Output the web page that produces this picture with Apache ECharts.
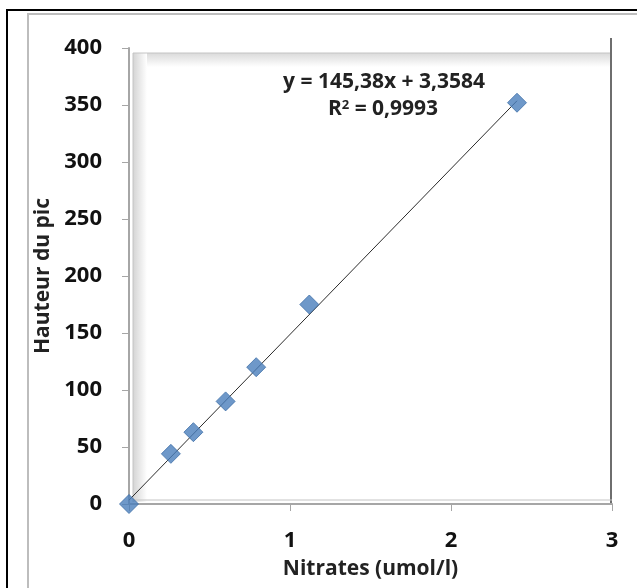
<!DOCTYPE html>
<html>
<head>
<meta charset="utf-8">
<script src="https://cdn.jsdelivr.net/npm/echarts@6/dist/echarts.min.js"></script>
<style>
  html, body { margin: 0; padding: 0; background: #fff; }
  #main { width: 637px; height: 588px; }
</style>
</head>
<body>
<div id="main"></div>
<script>
// values
const nitrates = [0, 0.26, 0.40, 0.60, 0.79, 1.12, 2.41];
const hauteur = [0, 44, 63, 90, 120, 175, 352];
const trendSlope = 145.38;
const trendIntercept = 3.3584;
const trendLabel = "y = 145,38x + 3,3584";
const r2Label = "0,9993";

let points = nitrates.map((x, i) => [x, hauteur[i]]);
let xEnd = nitrates[nitrates.length - 1];
let trend = [
  [0, trendIntercept],
  [xEnd, trendSlope * xEnd + trendIntercept],
];

const font = "'Open Sans', 'DejaVu Sans', sans-serif";

let myChart = echarts.init(document.getElementById("main"));

let options = {
  animation: false,
  backgroundColor: "#fff",
  grid: { left: 129, right: 25, top: 48, bottom: 84 },
  xAxis: {
    type: "value",
    min: 0,
    max: 3,
    interval: 1,
    name: "Nitrates (umol/l)",
    nameLocation: "middle",
    nameGap: 55,
    nameTextStyle: { fontFamily: font, fontSize: 21, fontWeight: "bold", color: "#222" },
    axisLine: { show: true, lineStyle: { color: "#a6a6a6", width: 2 } },
    axisTick: { show: true, length: 7, lineStyle: { color: "#a6a6a6" } },
    axisLabel: { margin: 26, fontFamily: font, fontSize: 22, fontWeight: "bold", color: "#111" },
    splitLine: { show: false },
  },
  yAxis: {
    type: "value",
    min: 0,
    max: 400,
    interval: 50,
    name: "Hauteur du pic",
    nameLocation: "middle",
    nameGap: 70,
    nameTextStyle: { fontFamily: font, fontSize: 21, fontWeight: "bold", color: "#222" },
    axisLine: { show: true, lineStyle: { color: "#a6a6a6", width: 2 } },
    axisTick: { show: true, length: 7, lineStyle: { color: "#a6a6a6" } },
    axisLabel: { margin: 27, fontFamily: font, fontSize: 22, fontWeight: "bold", color: "#111" },
    splitLine: { show: false },
  },
  graphic: [
    // outer black frame
    { type: "rect", z: -10, shape: { x: 7, y: 10, width: 700, height: 700 },
      style: { fill: "none", stroke: "#000", lineWidth: 2 } },
    // grey chart frame
    { type: "rect", z: -10, shape: { x: 28, y: 14, width: 700, height: 700 },
      style: { fill: "none", stroke: "#bdbdbd", lineWidth: 2 } },
    // plot wall shading (top and left)
    { type: "rect", z: -5, shape: { x: 133, y: 53, width: 479, height: 14 },
      style: { fill: new echarts.graphic.LinearGradient(0, 0, 0, 1, [
        { offset: 0, color: "#dadada" }, { offset: 1, color: "#ffffff" } ]) } },
    { type: "rect", z: -5, shape: { x: 133, y: 53, width: 14, height: 449 },
      style: { fill: new echarts.graphic.LinearGradient(0, 0, 1, 0, [
        { offset: 0, color: "#d4d4d4" }, { offset: 1, color: "#ffffff" } ]) } },
    // wall border
    { type: "polyline", z: -4, shape: { points: [[133, 502], [133, 53], [612, 53]] },
      style: { stroke: "#c4c4c4", lineWidth: 1, fill: "none" } },
    { type: "line", z: -4, shape: { x1: 611, y1: 38, x2: 611, y2: 504 },
      style: { stroke: "#6e6e6e", lineWidth: 2 } },
    { type: "line", z: -4, shape: { x1: 133, y1: 500, x2: 612, y2: 500 },
      style: { stroke: "#c4c4c4", lineWidth: 1 } },
    // trendline equation
    { type: "text", z: 10, x: 384, y: 72,
      style: { text: trendLabel, font: "bold 21px " + font, fill: "#222", textAlign: "center" } },
    { type: "text", z: 10, x: 383, y: 99,
      style: {
        text: "{n|R}{s|2}{n| = " + r2Label + "}",
        textAlign: "center",
        rich: {
          n: { font: "bold 21px " + font, fill: "#222", verticalAlign: "bottom" },
          s: { font: "bold 13px " + font, fill: "#222", verticalAlign: "top" },
        },
      } },
  ],
  series: [
    {
      name: "Tendance",
      type: "line",
      data: trend,
      symbol: "none",
      lineStyle: { color: "#2b2b2b", width: 1 },
      z: 3,
      silent: true,
    },
    {
      name: "Hauteur",
      type: "scatter",
      data: points,
      symbol: "diamond",
      symbolSize: [19, 19],
      itemStyle: { color: "#4a7ebb", borderColor: "#3f6fa8", borderWidth: 1 },
      z: 4,
    },
  ],
};
myChart.setOption(options);
</script>
</body>
</html>
